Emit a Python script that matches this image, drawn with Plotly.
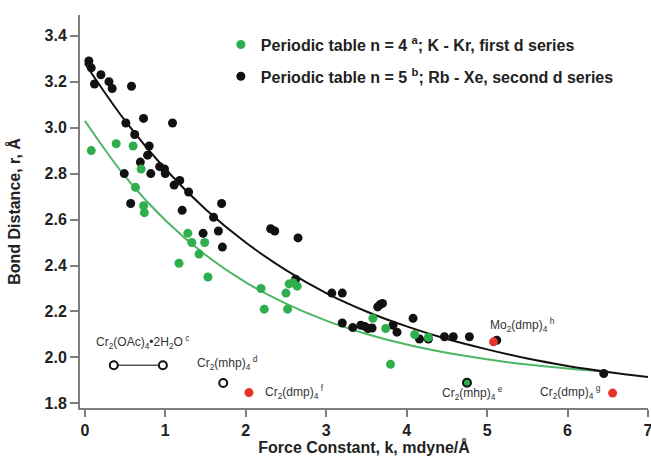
import plotly.graph_objects as go

# ---- data ----
k5 = [0.05, 0.08, 0.12, 0.20, 0.30, 0.34, 0.58, 0.51, 0.73, 1.09, 0.62, 0.80, 0.78, 0.69,
      0.49, 0.82, 0.93, 0.99, 1.00, 1.11, 1.18, 1.29, 0.57, 1.21, 1.70, 1.60, 1.47, 1.66,
      1.71, 2.31, 2.36, 2.65, 2.62, 3.07, 3.20, 3.20, 3.33, 3.43, 3.48, 3.52, 3.57, 3.64,
      3.67, 3.70, 3.83, 3.88, 4.08, 4.16, 4.27, 4.47, 4.58, 4.78, 5.12, 6.45]
r5 = [3.29, 3.26, 3.19, 3.23, 3.20, 3.17, 3.18, 3.02, 3.04, 3.02, 2.97, 2.92, 2.88, 2.85,
      2.80, 2.80, 2.83, 2.82, 2.80, 2.75, 2.77, 2.72, 2.67, 2.64, 2.67, 2.61, 2.54, 2.55,
      2.48, 2.56, 2.55, 2.52, 2.34, 2.28, 2.28, 2.15, 2.13, 2.14, 2.135, 2.126, 2.128, 2.22,
      2.23, 2.235, 2.14, 2.11, 2.17, 2.08, 2.08, 2.09, 2.09, 2.09, 2.075, 1.93]

k4 = [0.08, 0.39, 0.60, 0.70, 0.63, 0.73, 0.74, 1.28, 1.33, 1.49, 1.42, 1.17, 1.53, 2.19,
      2.23, 2.50, 2.52, 2.54, 2.59, 2.64, 3.58, 3.74, 4.10, 4.27, 3.80]
r4 = [2.90, 2.93, 2.92, 2.82, 2.74, 2.66, 2.63, 2.54, 2.50, 2.50, 2.45, 2.41, 2.35, 2.30,
      2.21, 2.28, 2.21, 2.32, 2.325, 2.31, 2.17, 2.126, 2.10, 2.087, 1.97]

# fitted curves
fit_k5 = [0, 0.5, 1, 1.5, 2, 2.5, 3, 3.5, 4, 4.5, 5, 5.5, 6, 6.5, 7]
fit_r5 = [3.28, 3.03, 2.82, 2.645, 2.50, 2.38, 2.28, 2.20, 2.135, 2.08, 2.035, 1.995, 1.963, 1.937, 1.915]
fit_k4 = [0, 0.5, 1, 1.5, 2, 2.5, 3, 3.5, 4, 4.5, 5, 5.5, 6, 6.5]
fit_r4 = [3.03, 2.788, 2.597, 2.446, 2.327, 2.234, 2.16, 2.102, 2.056, 2.02, 1.992, 1.969, 1.952, 1.938]

red_k = [2.04, 5.08, 6.56]
red_r = [1.847, 2.068, 1.845]

oac_k = [0.36, 0.97]
oac_r = [1.966, 1.966]
mhp_d_k = [1.72]
mhp_d_r = [1.889]
mhp_e_k = [4.75]
mhp_e_r = [1.89]

labels = [
    ("Cr<sub>2</sub>(OAc)<sub>4</sub>•2H<sub>2</sub>O<sup> c</sup>", 0.11, 2.069),
    ("Cr<sub>2</sub>(mhp)<sub>4</sub><sup> d</sup>", 1.37, 1.977),
    ("Cr<sub>2</sub>(dmp)<sub>4</sub><sup> f</sup>", 2.215, 1.85),
    ("Mo<sub>2</sub>(dmp)<sub>4</sub><sup> h</sup>", 5.01, 2.141),
    ("Cr<sub>2</sub>(mhp)<sub>4</sub><sup> e</sup>", 4.415, 1.845),
    ("Cr<sub>2</sub>(dmp)<sub>4</sub><sup> g</sup>", 5.633, 1.851),
]

GREEN = "#2fae4e"
GREENLINE = "#4cb765"
BLACK = "#111111"
RED = "#e6342b"
AX = "#7f7f7f"
FONT = "Liberation Sans, Arial, sans-serif"

fig = go.Figure()
fig.add_trace(go.Scatter(x=fit_k4, y=fit_r4, mode="lines", line=dict(color=GREENLINE, width=2, shape="spline"),
                         showlegend=False, hoverinfo="skip"))
fig.add_trace(go.Scatter(x=fit_k5, y=fit_r5, mode="lines", line=dict(color=BLACK, width=2, shape="spline"),
                         showlegend=False, hoverinfo="skip"))
fig.add_trace(go.Scatter(x=k5, y=r5, mode="markers", marker=dict(color=BLACK, size=9),
                         name="Periodic table n = 5 <sup>b</sup>; Rb - Xe, second d series",
                         legendrank=2, legendgroup="b"))
fig.add_trace(go.Scatter(x=k4, y=r4, mode="markers", marker=dict(color=GREEN, size=9),
                         name="Periodic table n = 4 <sup>a</sup>; K - Kr, first d series",
                         legendrank=1, legendgroup="a"))
fig.add_trace(go.Scatter(x=red_k, y=red_r, mode="markers", marker=dict(color=RED, size=9), showlegend=False))
fig.add_trace(go.Scatter(x=oac_k, y=oac_r, mode="lines+markers",
                         line=dict(color="#555555", width=1.5),
                         marker=dict(color="white", size=8, line=dict(color=BLACK, width=2)), showlegend=False))
fig.add_trace(go.Scatter(x=mhp_d_k, y=mhp_d_r, mode="markers",
                         marker=dict(color="white", size=8, line=dict(color=BLACK, width=2)), showlegend=False))
fig.add_trace(go.Scatter(x=mhp_e_k, y=mhp_e_r, mode="markers",
                         marker=dict(color=GREEN, size=8, line=dict(color=BLACK, width=2)), showlegend=False))

for txt, x, y in labels:
    fig.add_annotation(x=x, y=y, xref="x", yref="y", text=txt, showarrow=False,
                       xanchor="left", yanchor="middle", font=dict(family=FONT, size=12, color="#333333"))

fig.update_layout(
    width=651, height=456,
    margin=dict(l=80, r=3, t=15, b=48, autoexpand=False),
    paper_bgcolor="white", plot_bgcolor="white",
    font=dict(family=FONT, color="#222222"),
    showlegend=True,
    legend=dict(x=0.248, y=0.968, xanchor="left", yanchor="top", bgcolor="rgba(0,0,0,0)",
                font=dict(family=FONT, size=16, color="#222222", weight="bold"),
                tracegroupgap=8, traceorder="grouped", itemwidth=30),
)
fig.update_xaxes(range=[-0.06, 7.0], tickvals=[0, 1, 2, 3, 4, 5, 6, 7], showgrid=False, zeroline=False,
                 showline=True, linecolor=AX, linewidth=2, ticks="outside", ticklen=7, tickwidth=2,
                 tickcolor=AX, ticklabeloverflow="allow", automargin=False,
                 tickfont=dict(family=FONT, size=16, weight="bold", color="#222222"),
                 title=dict(text="Force Constant, k, mdyne/Å", standoff=2,
                            font=dict(family=FONT, size=16, weight="bold", color="#222222")))
fig.update_yaxes(range=[1.78, 3.49], tickvals=[1.8, 2.0, 2.2, 2.4, 2.6, 2.8, 3.0, 3.2, 3.4],
                 tickformat=".1f", showgrid=False, zeroline=False, automargin=False,
                 showline=True, linecolor=AX, linewidth=2, ticks="outside", ticklen=8, tickwidth=2,
                 tickcolor=AX, tickfont=dict(family=FONT, size=16, weight="bold", color="#222222"),
                 title=dict(text="Bond Distance, r, Å", standoff=20,
                            font=dict(family=FONT, size=16, weight="bold", color="#222222")))

fig.write_html("out.html", config={"displayModeBar": False})

# remove the browser's default 8px body margin so the figure sits at the page origin
with open("out.html", "r", encoding="utf-8") as f:
    html = f.read()
html = html.replace("<head>", "<head><style>html,body{margin:0;padding:0;overflow:hidden}</style>", 1)
with open("out.html", "w", encoding="utf-8") as f:
    f.write(html)
